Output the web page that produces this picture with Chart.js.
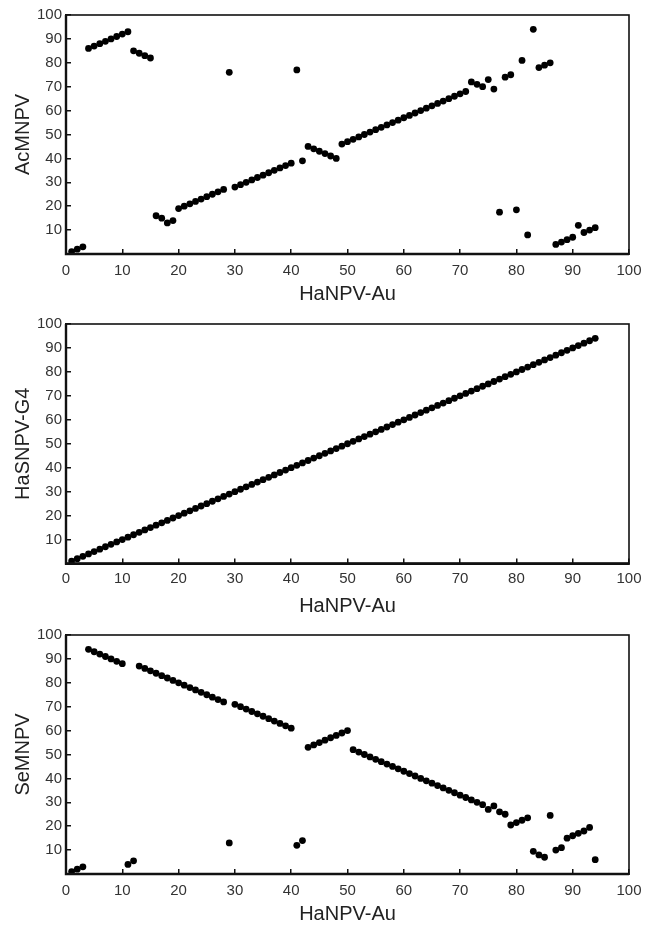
<!DOCTYPE html>
<html><head><meta charset="utf-8">
<script src="https://cdn.jsdelivr.net/npm/chart.js@4/dist/chart.umd.min.js"></script>
<style>
html,body{margin:0;padding:0;background:#fff;overflow:hidden;width:646px;height:926px;}
canvas{position:absolute;left:0;display:block;}
</style></head><body>
<canvas id="c1" width="646" height="310" style="top:0px"></canvas>
<canvas id="c2" width="646" height="310" style="top:310px"></canvas>
<canvas id="c3" width="646" height="306" style="top:620px"></canvas>
<script>
// Gene positions on HaNPV-Au (x)
const hanpvAu = [1,2,3,4,5,6,7,8,9,10,11,12,13,14,15,16,17,18,19,20,21,22,23,24,25,26,27,28,29,30,31,32,33,34,35,36,37,38,39,40,41,42,43,44,45,46,47,48,49,50,51,52,53,54,55,56,57,58,59,60,61,62,63,64,65,66,67,68,69,70,71,72,73,74,75,76,77,78,79,80,81,82,83,84,85,86,87,88,89,90,91,92,93,94];
// Corresponding positions on AcMNPV
const acmnpv = [1,2,3, 86,87,88,89,90,91,92,93, 85,84,83,82, 16,15,13,14, 19,20,21,22,23,24,25,26,27, 76, 28,29,30,31,32,33,34,35,36,37,38, 77, 39, 45,44,43,42,41,40, 46,47,48,49,50,51,52,53,54,55,56,57,58,59,60,61,62,63,64,65,66,67,68, 72,71,70,73,69, 17.5, 74,75, 18.5, 81, 8, 94, 78,79,80, 4,5,6,7, 12, 9,10,11];
// Corresponding positions on HaSNPV-G4
const hasnpvG4 = [1,2,3,4,5,6,7,8,9,10,11,12,13,14,15,16,17,18,19,20,21,22,23,24,25,26,27,28,29,30,31,32,33,34,35,36,37,38,39,40,41,42,43,44,45,46,47,48,49,50,51,52,53,54,55,56,57,58,59,60,61,62,63,64,65,66,67,68,69,70,71,72,73,74,75,76,77,78,79,80,81,82,83,84,85,86,87,88,89,90,91,92,93,94];
// Corresponding positions on SeMNPV
const semnpv = [1,2,3, 94,93,92,91,90,89,88, 4,5.5, 87,86,85,84,83,82,81,80,79,78,77,76,75,74,73,72, 13, 71,70,69,68,67,66,65,64,63,62,61, 12,14, 53,54,55,56,57,58,59,60, 52,51,50,49,48,47,46,45,44,43,42,41,40,39,38,37,36,35,34,33,32,31,30,29, 27,28.5,26,25, 20.5,21.5,22.5,23.5, 9.5,8,7, 24.5, 10,11, 15,16,17,18,19.5, 6];

const xTicks = [0,10,20,30,40,50,60,70,80,90,100];
const yTicks = [10,20,30,40,50,60,70,80,90,100];
const xTitle = 'HaNPV-Au';

const boxPlugin = {
  id: 'box',
  afterDraw(chart) {
    const a = chart.chartArea, ctx = chart.ctx;
    ctx.save();
    ctx.strokeStyle = '#111';
    ctx.lineWidth = 1.6;
    ctx.strokeRect(a.left, a.top, a.right - a.left, a.bottom - a.top);
    ctx.lineWidth = 2.4;
    ctx.beginPath();
    ctx.moveTo(a.left, a.top);
    ctx.lineTo(a.left, a.bottom);
    ctx.lineTo(a.right, a.bottom);
    ctx.stroke();
    ctx.restore();
  }
};

function makeChart(id, yVals, yTitle, cfg) {
  const pts = hanpvAu.map((x, i) => ({x: x, y: yVals[i]}));
  return new Chart(document.getElementById(id), {
    type: 'scatter',
    data: { datasets: [{ data: pts, backgroundColor: '#000', borderWidth: 0, pointRadius: 3.4, pointHoverRadius: 3.4 }] },
    options: {
      responsive: false, animation: false, devicePixelRatio: 1,
      layout: { autoPadding: false, padding: { top: cfg.top, right: 17, left: 0, bottom: 0 } },
      plugins: { legend: { display: false }, tooltip: { enabled: false } },
      scales: {
        x: {
          type: 'linear', min: 0, max: 100,
          afterBuildTicks: s => { s.ticks = xTicks.map(v => ({value: v})); },
          afterFit: s => { s.height = cfg.xh; s.paddingLeft = 0; s.paddingRight = 0; },
          grid: { drawOnChartArea: false, drawTicks: true, tickLength: -5, color: '#111', lineWidth: 1.5 },
          border: { display: true, color: '#111', width: 2 },
          ticks: { color: '#333', padding: cfg.xpad, font: { family: 'Liberation Sans, Arial, sans-serif', size: 15 }, maxRotation: 0, autoSkip: false },
          title: { display: true, text: xTitle, color: '#222', font: { family: 'Liberation Sans, Arial, sans-serif', size: 20 }, padding: { top: 0, bottom: cfg.tpb } }
        },
        y: {
          type: 'linear', min: 0, max: 100,
          afterBuildTicks: s => { s.ticks = yTicks.map(v => ({value: v})); },
          afterFit: s => { s.width = 66; s.paddingTop = 0; s.paddingBottom = 0; },
          grid: { drawOnChartArea: false, drawTicks: true, tickLength: -5, color: '#111', lineWidth: 1.5 },
          border: { display: true, color: '#111', width: 2 },
          ticks: { color: '#333', padding: 9, font: { family: 'Liberation Sans, Arial, sans-serif', size: 15 }, autoSkip: false },
          title: { display: true, text: yTitle, color: '#222', font: { family: 'Liberation Sans, Arial, sans-serif', size: 20 }, padding: { top: 11, bottom: 0 } }
        }
      }
    },
    plugins: [boxPlugin]
  });
}

makeChart('c1', acmnpv, 'AcMNPV', { top: 15, xh: 56, xpad: 13, tpb: 4 });
makeChart('c2', hasnpvG4, 'HaSNPV-G4', { top: 14, xh: 56.5, xpad: 11, tpb: 1.5 });
makeChart('c3', semnpv, 'SeMNPV', { top: 15, xh: 52, xpad: 13, tpb: 0 });
</script>
</body></html>
